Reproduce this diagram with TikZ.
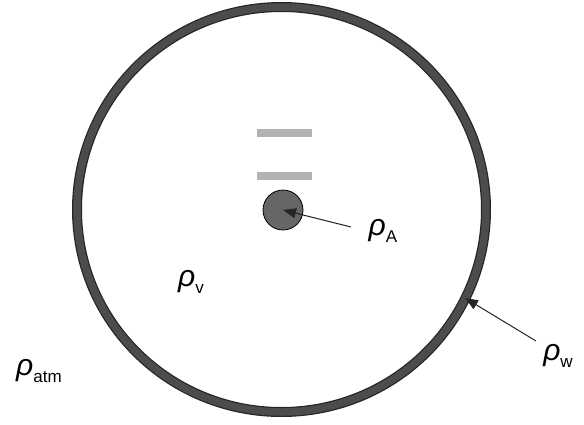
\documentclass[tikz,border=0pt]{standalone}
\usepackage{fontspec}
\setmainfont{Liberation Sans}
\usetikzlibrary{arrows.meta}
\newcommand{\rhosub}[1]{\textit{ρ}\raisebox{-0.45ex}{\fontsize{17}{18}\selectfont #1}}
\begin{document}
\begin{tikzpicture}[x=1pt,y=-1pt,
  lbl/.style={inner sep=0pt,font=\fontsize{30}{32}\selectfont},
  bar/.style={fill=black!30,draw=none},
  ptr/.style={draw=black!85,line width=1pt,-{Triangle[length=13pt,width=10pt]}}]
\useasboundingbox (0,0) rectangle (584,424);
% wall
\draw[black!85,line width=10pt] (281.5,209.5) ellipse [x radius=204.5, y radius=202.5];
\draw[black!70,line width=7.5pt] (281.5,209.5) ellipse [x radius=204.5, y radius=202.5];
% bars
\fill[bar] (257,129) rectangle (312,137);
\fill[bar] (257,172) rectangle (312,180);
% particle
\node[circle,draw=black,line width=0.8pt,fill=black!60,minimum size=40pt,inner sep=0pt] (pa) at (283,210) {};
\coordinate (wallpt) at (465,298);
% labels
\node[lbl] (la) at (383,231) {\rhosub{A}};
\node[lbl] (lw) at (558,356) {\rhosub{w}};
\node[lbl] (lv) at (191,282) {\rhosub{v}};
\node[lbl] (latm) at (39,371) {\rhosub{atm}};
% pointers
\coordinate (sa) at (351,227);
\coordinate (sw) at (536,341);
\draw[ptr] (sa) -- (pa.center);
\draw[ptr] (sw) -- (wallpt);
\end{tikzpicture}
\end{document}
